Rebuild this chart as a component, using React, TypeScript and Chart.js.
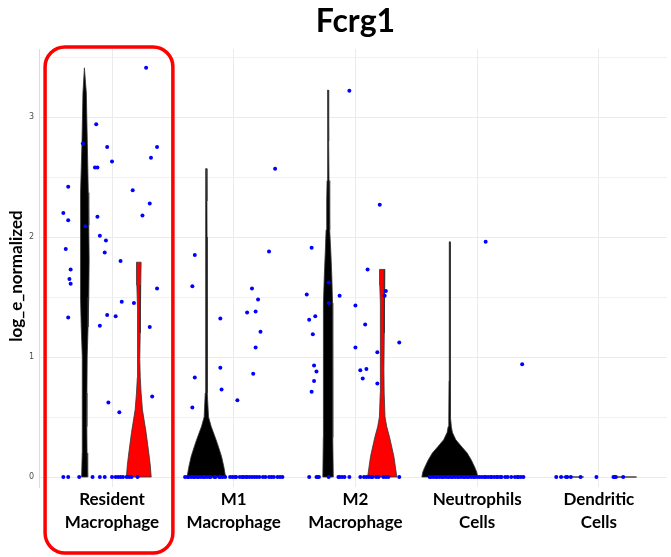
import React, { useEffect, useRef } from "react";
import { Chart, registerables } from "chart.js";

Chart.register(...registerables);

// ---------- data ----------
const chartTitle = "Fcrg1";
const yAxisTitle = "log_e_normalized";
const categories = [
  ["Resident", "Macrophage"],
  ["M1", "Macrophage"],
  ["M2", "Macrophage"],
  ["Neutrophils", "Cells"],
  ["Dendritic", "Cells"],
];
const yGridValues = [0, 0.5, 1, 1.5, 2, 2.5, 3, 3.5];
const groupOffsets = [-0.225, 0.22]; // black group, red group

// violin profiles: levels (log_e_normalized) and half widths (category units)
const residentBlackLevels = [0, 0.2, 0.42, 0.7, 1.0, 1.25, 1.5, 1.81, 2.1, 2.37, 2.78, 3.2, 3.41];
const residentBlackHalf = [0.025, 0.02, 0.018, 0.019, 0.021, 0.028, 0.034, 0.037, 0.034, 0.03, 0.022, 0.014, 0.002];
const residentRedLevels = [0, 0.1, 0.2, 0.37, 0.56, 0.7, 0.83, 0.98, 1.2, 1.4, 1.6, 1.79];
const residentRedHalf = [0.102, 0.094, 0.082, 0.06, 0.03, 0.019, 0.012, 0.008, 0.01, 0.013, 0.016, 0.019];
const m1BlackLevels = [0, 0.08, 0.17, 0.25, 0.31, 0.42, 0.5, 0.7, 1.0, 1.5, 2.0, 2.3, 2.57];
const m1BlackHalf = [0.158, 0.145, 0.125, 0.1, 0.08, 0.04, 0.018, 0.009, 0.007, 0.0065, 0.006, 0.005, 0.003];
const m2BlackLevels = [0, 0.33, 0.89, 1.2, 1.45, 1.67, 1.87, 2.06, 2.3, 2.47, 2.8, 3.225];
const m2BlackHalf = [0.043, 0.039, 0.039, 0.038, 0.037, 0.031, 0.023, 0.016, 0.011, 0.008, 0.005, 0.002];
const m2RedLevels = [0, 0.17, 0.33, 0.42, 0.5, 0.7, 0.89, 1.2, 1.45, 1.6, 1.73];
const m2RedHalf = [0.12, 0.096, 0.061, 0.037, 0.023, 0.016, 0.014, 0.015, 0.016, 0.02, 0.022];
const neutroBlackLevels = [0, 0.04, 0.08, 0.14, 0.2, 0.25, 0.31, 0.37, 0.42, 0.5, 0.8, 1.2, 1.6, 1.96];
const neutroBlackHalf = [0.229, 0.222, 0.206, 0.178, 0.143, 0.1, 0.05, 0.022, 0.013, 0.008, 0.006, 0.005, 0.004, 0.003];
const dendriticBlackHalf = 0.1; // all-zero group: flat violin
const dendriticRedHalf = 0.09;

// jittered cells: horizontal jitter (category units) and values
const residentJitter = [0.28, -0.13, -0.24, -0.04, 0.37, 0.32, 0.0, -0.14, -0.12, -0.36, 0.17, 0.31, -0.4, 0.25, -0.12, -0.36, -0.22, -0.1, -0.05, -0.38, -0.06, 0.07, -0.34, -0.35, -0.34, 0.37, 0.08, 0.18, -0.36, -0.04, 0.03, -0.1, 0.31, 0.33, -0.03, 0.06];
const residentValues = [3.41, 2.94, 2.78, 2.75, 2.75, 2.66, 2.63, 2.58, 2.58, 2.42, 2.39, 2.28, 2.2, 2.18, 2.17, 2.14, 2.09, 2.01, 1.97, 1.9, 1.87, 1.8, 1.73, 1.65, 1.61, 1.57, 1.46, 1.45, 1.33, 1.35, 1.34, 1.26, 1.25, 0.67, 0.62, 0.54];
const residentZeroJitter = [-0.4, -0.36, -0.27, -0.16, -0.1, -0.06, 0.0, 0.03, 0.05, 0.07, 0.09, 0.12, 0.14, 0.16, 0.21];

const m1Jitter = [0.34, -0.32, 0.29, -0.34, 0.15, 0.2, 0.11, 0.18, -0.11, 0.22, 0.18, -0.11, 0.16, -0.32, -0.1, 0.03, -0.34];
const m1Values = [2.57, 1.85, 1.88, 1.59, 1.57, 1.48, 1.37, 1.38, 1.32, 1.21, 1.08, 0.91, 0.86, 0.83, 0.73, 0.64, 0.58];
const m1ZeroJitter = [-0.4, -0.38, -0.37, -0.35, -0.33, -0.32, -0.3, -0.29, -0.27, -0.25, -0.24, -0.22, -0.2, -0.19, -0.16, -0.15, -0.12, -0.11, -0.09, -0.07, -0.03, -0.01, 0.01, 0.02, 0.05, 0.07, 0.08, 0.1, 0.11, 0.13, 0.15, 0.17, 0.19, 0.21, 0.24, 0.26, 0.29, 0.31, 0.33, 0.36, 0.38, 0.4];

const m2Jitter = [-0.05, 0.2, -0.36, 0.1, -0.22, 0.25, 0.24, -0.4, -0.13, -0.22, 0.0, -0.33, -0.38, 0.08, -0.35, 0.36, 0.0, 0.18, -0.34, -0.32, 0.04, 0.09, 0.06, -0.34, 0.18, -0.36];
const m2Values = [3.22, 2.27, 1.91, 1.73, 1.62, 1.55, 1.51, 1.52, 1.51, 1.45, 1.43, 1.34, 1.31, 1.27, 1.19, 1.12, 1.08, 1.04, 0.93, 0.88, 0.89, 0.9, 0.82, 0.8, 0.78, 0.71];
const m2ZeroJitter = [-0.38, -0.32, -0.31, -0.3, -0.22, -0.14, -0.13, -0.11, -0.09, -0.05, 0.04, 0.07, 0.09, 0.11, 0.13, 0.14, 0.17, 0.19, 0.23, 0.25, 0.27, 0.36];

const neutroJitter = [0.07, 0.37];
const neutroValues = [1.96, 0.94];
const neutroZeroJitter = [-0.39, -0.38, -0.36, -0.34, -0.33, -0.31, -0.29, -0.28, -0.26, -0.24, -0.23, -0.21, -0.2, -0.18, -0.16, -0.15, -0.13, -0.11, -0.1, -0.08, -0.07, -0.05, -0.03, -0.02, 0.0, 0.02, 0.04, 0.06, 0.07, 0.09, 0.11, 0.12, 0.14, 0.16, 0.17, 0.19, 0.2, 0.23, 0.25, 0.28, 0.31, 0.33, 0.34, 0.36, 0.38];

const dendriticJitter: number[] = [];
const dendriticValues: number[] = [];
const dendriticZeroJitter = [-0.35, -0.31, -0.27, -0.26, -0.23, -0.15, -0.02, 0.12, 0.13, 0.14, 0.2];

// ---------- helpers ----------
type Pt = { x: number; y: number };

function violinPolygon(cat: number, group: number, levels: number[], half: number[]): Pt[] {
  const c = cat + groupOffsets[group];
  const left = levels.map((y, i) => ({ x: c - half[i], y }));
  const right = levels.map((y, i) => ({ x: c + half[i], y })).reverse();
  return [...left, ...right, left[0]];
}

function cellPoints(cat: number, jitter: number[], values: number[], zeroJitter: number[]): Pt[] {
  return [
    ...jitter.map((j, i) => ({ x: cat + j, y: values[i] })),
    ...zeroJitter.map((j) => ({ x: cat + j, y: 0 })),
  ];
}

const overlayPlugin = {
  id: "overlay",
  afterDraw(chart: any) {
    const { ctx, chartArea, scales } = chart;
    const xs = scales.x;
    ctx.save();
    // title centred over the panel
    ctx.fillStyle = "#000";
    ctx.font = "bold 32px Lato";
    ctx.textAlign = "center";
    ctx.textBaseline = "alphabetic";
    ctx.fillText(chartTitle, (chartArea.left + xs.getPixelForValue(4.6)) / 2, 32);
    // y axis title
    ctx.translate(17, 276);
    ctx.rotate(-Math.PI / 2);
    ctx.font = "bold 17px Lato";
    ctx.textBaseline = "middle";
    ctx.fillText(yAxisTitle, 0, 0);
    ctx.restore();
    // highlight box around first category
    ctx.save();
    const l = xs.getPixelForValue(-0.55);
    const r = xs.getPixelForValue(0.5);
    const t = chartArea.top - 2;
    const b = chart.height - 4;
    ctx.strokeStyle = "#ff0000";
    ctx.lineWidth = 3.5;
    ctx.beginPath();
    (ctx as any).roundRect(l, t, r - l, b - t, 20);
    ctx.stroke();
    ctx.restore();
  },
};

export default function App() {
  const ref = useRef<HTMLCanvasElement>(null);
  useEffect(() => {
    if (!ref.current) return;
    const violinStyle = (color: string) => ({
      type: "line" as const,
      showLine: true,
      fill: "shape",
      backgroundColor: color,
      borderColor: "#333333",
      borderWidth: 0.8,
      pointRadius: 0,
      tension: 0,
      order: 2,
    });
    const datasets: any[] = [
      { ...violinStyle("#000000"), data: violinPolygon(0, 0, residentBlackLevels, residentBlackHalf) },
      { ...violinStyle("#ff0000"), data: violinPolygon(0, 1, residentRedLevels, residentRedHalf) },
      { ...violinStyle("#000000"), data: violinPolygon(1, 0, m1BlackLevels, m1BlackHalf) },
      { ...violinStyle("#000000"), data: violinPolygon(2, 0, m2BlackLevels, m2BlackHalf) },
      { ...violinStyle("#ff0000"), data: violinPolygon(2, 1, m2RedLevels, m2RedHalf) },
      { ...violinStyle("#000000"), data: violinPolygon(3, 0, neutroBlackLevels, neutroBlackHalf) },
      {
        type: "line", showLine: true, fill: false, borderColor: "#444", borderWidth: 1.5, pointRadius: 0, order: 2,
        data: [{ x: 4 + groupOffsets[0] - dendriticBlackHalf, y: 0 }, { x: 4 + groupOffsets[0] + dendriticBlackHalf, y: 0 }],
      },
      {
        type: "line", showLine: true, fill: false, borderColor: "#444", borderWidth: 1.5, pointRadius: 0, order: 2,
        data: [{ x: 4 + groupOffsets[1] - dendriticRedHalf, y: 0 }, { x: 4 + groupOffsets[1] + dendriticRedHalf, y: 0 }],
      },
      {
        type: "scatter",
        order: 1,
        pointRadius: 2,
        pointBorderWidth: 0,
        pointBackgroundColor: "#0000ff",
        backgroundColor: "#0000ff",
        data: [
          ...cellPoints(0, residentJitter, residentValues, residentZeroJitter),
          ...cellPoints(1, m1Jitter, m1Values, m1ZeroJitter),
          ...cellPoints(2, m2Jitter, m2Values, m2ZeroJitter),
          ...cellPoints(3, neutroJitter, neutroValues, neutroZeroJitter),
          ...cellPoints(4, dendriticJitter, dendriticValues, dendriticZeroJitter),
        ],
      },
    ];
    const chart = new Chart(ref.current, {
      type: "scatter",
      data: { datasets },
      options: {
        responsive: false,
        animation: false,
        layout: { padding: { top: 49, left: 0, right: 0, bottom: 0 } },
        plugins: { legend: { display: false }, tooltip: { enabled: false }, title: { display: false } },
        scales: {
          x: {
            type: "linear",
            min: -0.6,
            max: 4.56,
            afterBuildTicks: (axis: any) => {
              axis.ticks = categories.map((_, i) => ({ value: i }));
            },
            afterFit: (axis: any) => {
              axis.height = 70;
            },
            ticks: {
              autoSkip: false,
              maxRotation: 0,
              padding: 1,
              color: "#000",
              font: { family: "Lato", weight: "bold", size: 17, lineHeight: 1.35 },
              callback: (_v: any, i: number) => categories[i],
            },
            grid: { color: "#ebebeb", drawTicks: false },
            border: { display: false },
          },
          y: {
            type: "linear",
            min: -0.0833,
            max: 3.567,
            afterBuildTicks: (axis: any) => {
              axis.ticks = yGridValues.map((v) => ({ value: v }));
            },
            afterFit: (axis: any) => {
              axis.width = 39;
            },
            ticks: {
              padding: 5,
              color: "#4d4d4d",
              font: { family: "DejaVu Sans", size: 8 },
              callback: (v: any) => (Number.isInteger(v) ? String(v) : ""),
            },
            grid: {
              color: "#ebebeb",
              drawTicks: false,
              lineWidth: (c: any) => (Number.isInteger(c.tick?.value) ? 1 : 0.7),
            },
            border: { display: true, color: "#dcdcdc", width: 1 },
          },
        },
      } as any,
      plugins: [overlayPlugin],
    });
    return () => chart.destroy();
  }, []);
  return (
    <div style={{ position: "absolute", left: 0, top: 0, width: 671, height: 557, background: "#fff" }}>
      <canvas ref={ref} width={671} height={557} style={{ display: "block" }} />
    </div>
  );
}
